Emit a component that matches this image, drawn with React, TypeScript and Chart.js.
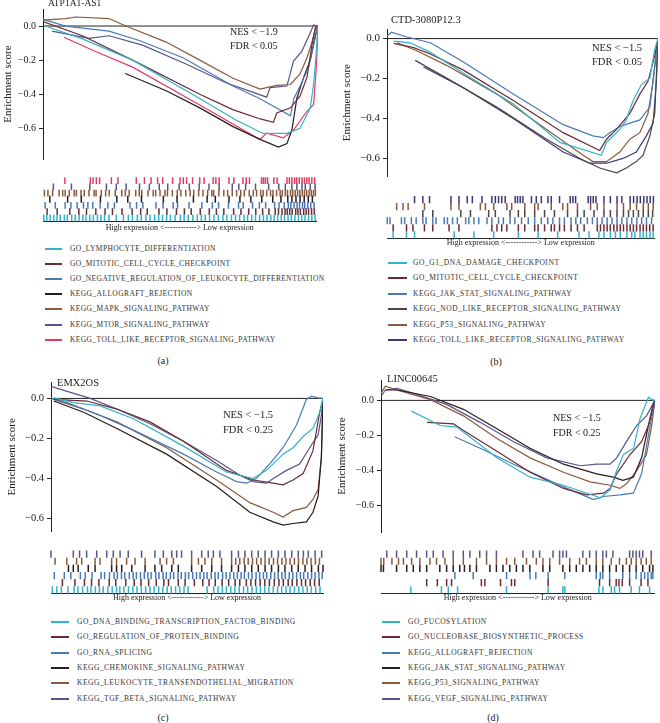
import React, { useEffect, useRef } from 'react';
import { Chart, registerables } from 'chart.js';
Chart.register(...registerables);

const SERIF = '"Liberation Serif", "DejaVu Serif", "Times New Roman", serif';
const MINUS = '\u2212';
const Y_TICKS = [0, -0.2, -0.4, -0.6];
const X_LABEL = 'High expression <------------> Low expression';

// colours
const CYAN = '#35b1c9';
const MAROON = '#6a2c34';
const STEEL = '#4a79b8';
const BLACK = '#2b1b1e';
const BROWN = '#8a5a3c';
const SLATE = '#55558c';
const NAVY = '#3b376f';
const RED = '#e23a66';
const GRAY = '#4b4448';

// ---------- Panel (a): ATP1A1-AS1 ----------
const A_NAMES = ['GO_LYMPHOCYTE_DIFFERENTIATION', 'GO_MITOTIC_CELL_CYCLE_CHECKPOINT', 'GO_NEGATIVE_REGULATION_OF_LEUKOCYTE_DIFFERENTIATION', 'KEGG_ALLOGRAFT_REJECTION', 'KEGG_MAPK_SIGNALING_PATHWAY', 'KEGG_MTOR_SIGNALING_PATHWAY', 'KEGG_TOLL_LIKE_RECEPTOR_SIGNALING_PATHWAY'];
const A_LYMPHO = [[0.9, 0], [14.3, -0.075], [32.6, -0.2], [57, -0.425], [70, -0.55], [80, -0.63], [88.7, -0.63], [93.5, -0.6], [97.2, -0.48], [98.4, -0.34], [99.4, -0.15], [100, 0]];
const A_MITOTIC = [[0, 0.026], [14.3, -0.057], [32.6, -0.2], [57, -0.4], [69, -0.49], [79, -0.545], [83.8, -0.565], [85, -0.51], [90, -0.48], [93.5, -0.41], [96, -0.3], [97.8, -0.11], [99, -0.01], [100, 0]];
const A_NEGREG = [[0, 0.039], [8.2, 0], [24, -0.03], [35, -0.085], [50.9, -0.186], [69.1, -0.352], [78.9, -0.426], [90, -0.527], [91.2, -0.426], [93.5, -0.352], [96.6, -0.241], [98.4, -0.112], [100, 0]];
const A_ALLO = [[29.9, -0.278], [44.8, -0.38], [57, -0.48], [69.1, -0.59], [78.9, -0.665], [85.6, -0.71], [88.7, -0.69], [90.5, -0.61], [92.3, -0.425], [94.8, -0.3], [97.2, -0.2], [99, -0.057], [100, 0]];
const A_MAPK = [[0, 0.035], [8.2, 0.044], [11.8, 0.053], [24, 0.044], [30.1, 0], [44.8, -0.094], [57, -0.2], [69.1, -0.306], [78.9, -0.37], [85, -0.348], [90, -0.343], [93.5, -0.28], [96, -0.186], [97.8, -0.094], [99, -0.02], [100, 0]];
const A_MTOR = [[3.3, -0.03], [16.7, -0.072], [24, -0.057], [36.2, -0.112], [52, -0.223], [66.7, -0.334], [76.5, -0.389], [81.3, -0.417], [82.6, -0.361], [88.7, -0.352], [91.1, -0.205], [94.1, -0.149], [97.2, -0.039], [98.4, 0.007], [100, 0]];
const A_TOLL = [[7.6, -0.066], [19.1, -0.149], [32.6, -0.241], [57, -0.463], [78.9, -0.665], [81.3, -0.628], [87.4, -0.656], [91.1, -0.61], [96, -0.5], [98.4, -0.46], [99.4, -0.24], [100, 0]];
const A_LYMPHO_HITS = [0.3, 1.4, 2.6, 3.9, 5.1, 6.3, 7.8, 8.9, 10.5, 11.8, 13.2, 14.6, 15.7, 17.1, 18.4, 19.9, 21.2, 22.5, 24.1, 26.8, 29.4, 31.2, 32.7, 34.5, 35.9, 37.6, 39.1, 40.8, 42.3, 43.7, 45.2, 46.6, 48.3, 50.2, 51.6, 53.1, 54.8, 56.4, 57.9, 59.3, 60.9, 62.5, 64.1, 65.8, 67.2, 68.9, 70.4, 71.9, 73.5, 74.8, 76.3, 77.7, 79.2, 80.6, 81.9, 83.3, 84.5, 85.8, 87.1, 88.3, 89.6, 90.8, 92.1, 93.4, 94.6, 95.8, 97.1, 98.3, 99.5];
const A_MITOTIC_HITS = [1.5, 5.2, 9.8, 13.1, 15.9, 19.3, 22.7, 25.4, 28.9, 32.6, 35.7, 38.1, 42.4, 45.3, 48.8, 51.7, 54.2, 57.5, 60.8, 63.4, 66.1, 69.7, 72.4, 75.2, 77.8, 80.3, 82.6, 84.9, 86.1, 87.4, 88.5, 89.3, 90.2, 91.1, 92.4, 93.2, 94.1, 95.3, 96.2, 97.1, 98.2, 99.2];
const A_NEGREG_HITS = [0.8, 4.5, 8.1, 10.2, 12.5, 14.8, 16.4, 18.2, 20.9, 23.7, 26.1, 31.8, 34.2, 36.5, 41.3, 43.9, 47.6, 49.2, 53.4, 58.1, 61.9, 64.2, 67.8, 71.5, 73.2, 76.6, 79.1, 81.4, 84.7, 86.3, 88.2, 89.7, 90.6, 91.8, 92.9, 93.8, 94.9, 95.7, 96.8, 97.9, 99.1];
const A_ALLO_HITS = [2.5, 9, 14, 21, 27, 31, 36, 44, 49, 55, 60, 63, 68, 72, 76, 80, 84, 87, 89.5, 91, 92.5, 94, 95.5, 97, 98.5];
const A_MAPK_HITS = [0.5, 1.8, 3.5, 5.9, 7.2, 8.1, 9.6, 11.4, 12.2, 13.9, 15.1, 16.8, 18.7, 19.4, 21.3, 22.9, 24.2, 26.4, 28.8, 30.1, 31.5, 33.9, 35.2, 36.1, 38.4, 40.3, 41.2, 42.8, 44.6, 45.5, 47.3, 49.1, 50.4, 52.2, 53.8, 55.1, 56.9, 58.5, 60.2, 61.7, 62.4, 64.3, 66.1, 67.5, 69.2, 70.8, 72.3, 73.6, 75.4, 76.9, 78.1, 79.6, 80.5, 81.8, 83.2, 84.1, 85.4, 86.7, 87.5, 88.6, 89.4, 90.5, 91.3, 92.2, 93.1, 93.9, 94.8, 95.6, 96.4, 97.3, 98.1, 98.9, 99.6];
const A_MTOR_HITS = [3.8, 10.4, 17.1, 23.2, 26.8, 30.4, 35.3, 38.9, 42.5, 45.6, 49.8, 53.5, 57.1, 60.7, 64.4, 69.2, 71.6, 74.1, 77.7, 82.5, 86.2, 88.6, 91, 92.8, 94.7, 95.9, 97.7, 99.5];
const A_TOLL_HITS = [8, 17.3, 18.3, 19.5, 20.7, 25, 27.4, 34.1, 37.1, 39.5, 41.9, 43.8, 47.4, 50.1, 51.3, 52.5, 54.7, 57.3, 58.9, 62.2, 63.2, 64.4, 68, 69.8, 73.1, 74.3, 75.5, 79.9, 80.6, 81.3, 82.1, 84.4, 85.6, 89.2, 90.1, 91, 92, 92.8, 93.7, 94.7, 95.6, 96.5, 97.3, 98.3, 99.3];

// ---------- Panel (b): CTD-3080P12.3 ----------
const B_NAMES = ['GO_G1_DNA_DAMAGE_CHECKPOINT', 'GO_MITOTIC_CELL_CYCLE_CHECKPOINT', 'KEGG_JAK_STAT_SIGNALING_PATHWAY', 'KEGG_NOD_LIKE_RECEPTOR_SIGNALING_PATHWAY', 'KEGG_P53_SIGNALING_PATHWAY', 'KEGG_TOLL_LIKE_RECEPTOR_SIGNALING_PATHWAY'];
const B_G1 = [[2.5, -0.013], [8.6, -0.021], [16, -0.069], [28.2, -0.174], [46.6, -0.327], [63.8, -0.52], [79.1, -0.584], [81, -0.52], [85.9, -0.455], [88.3, -0.407], [90.8, -0.31], [93.9, -0.23], [97, -0.198], [98.8, -0.053], [100, 0]];
const B_MITOTIC = [[2.5, -0.024], [9.8, -0.045], [16, -0.077], [28.2, -0.158], [46.6, -0.31], [65, -0.471], [78.5, -0.56], [81, -0.504], [84.7, -0.455], [89.6, -0.375], [93.3, -0.278], [96.3, -0.214], [98.8, -0.085], [100, 0]];
const B_JAK = [[0, 0.011], [1.6, 0.032], [7.4, 0.008], [16, -0.021], [28.2, -0.117], [46.6, -0.278], [65, -0.431], [76, -0.487], [79.8, -0.496], [82.2, -0.471], [85.9, -0.44], [89.6, -0.423], [93.3, -0.407], [97, -0.343], [98.8, -0.134], [100, 0]];
const B_NOD = [[10.4, -0.109], [22, -0.198], [40.5, -0.343], [58.9, -0.504], [71.2, -0.6], [78.5, -0.648], [84.7, -0.672], [88.3, -0.648], [92, -0.616], [94.5, -0.584], [97, -0.487], [98.8, -0.375], [100, 0]];
const B_P53 = [[3.7, -0.021], [11, -0.061], [22, -0.134], [40.5, -0.278], [58.9, -0.455], [72.4, -0.584], [76, -0.616], [81, -0.616], [85.9, -0.568], [89.6, -0.504], [93.3, -0.471], [96.3, -0.375], [98.2, -0.214], [100, 0]];
const B_TOLL = [[13.5, -0.142], [28.2, -0.246], [46.6, -0.4], [65, -0.568], [74.8, -0.624], [81, -0.624], [87.1, -0.6], [92, -0.568], [95.7, -0.487], [98.2, -0.423], [99.4, -0.214], [100, 0]];
const B_G1_HITS = [2.3, 7.3, 10.3, 25.1, 32.5, 39.9, 49.1, 56.5, 63.8, 71.8, 75.5, 79.2, 81.1, 83.5, 85.4, 87.2, 89.7, 91.5, 92.7, 94.6, 95.8, 97, 98.3, 99.5];
const B_MITOTIC_HITS = [2.3, 7.3, 9.7, 14, 17.1, 23.2, 26.9, 39.2, 41.1, 42.9, 44.8, 49.1, 51.5, 55.2, 56.5, 58.9, 61.4, 62.6, 64.5, 66.3, 68.8, 71.2, 73.7, 78.6, 79.8, 81.1, 82.3, 83.5, 84.8, 86, 87.2, 88.4, 89.7, 90.9, 92.1, 93.3, 94.6, 95.8, 97, 98.2, 99.5];
const B_JAK_HITS = [0.1, 1.1, 5.4, 6.6, 9.1, 10.9, 13.4, 14.6, 17.1, 18.3, 21.4, 22.6, 24.5, 26.3, 29.4, 30.6, 32.5, 34.3, 37.4, 39.2, 41.7, 43.5, 46, 47.8, 50.3, 52.8, 55.2, 57.7, 60.1, 62, 64.5, 66.3, 68.8, 70.6, 72.4, 74.9, 76.8, 78.6, 80.4, 82.3, 84.1, 86, 87.8, 89.7, 91.5, 93.4, 95.2, 97, 98.9];
const B_NOD_HITS = [13.4, 17.1, 27.6, 31.2, 38, 40.5, 46, 49.1, 51.5, 55.2, 58.9, 62.6, 67.5, 71.2, 73.7, 77.4, 81.1, 83.5, 86, 88.4, 90.3, 92.1, 94, 95.8, 97.7, 99.3];
const B_P53_HITS = [3.6, 6, 7.9, 14, 23.9, 26.9, 34.9, 36.8, 39.9, 44.8, 46.6, 51.5, 55.2, 56.5, 61.4, 65.7, 67.5, 71.2, 76.1, 78.6, 81.1, 86, 88.4, 90.9, 93.3, 95.8, 97.7, 99.5];
const B_TOLL_HITS = [10.3, 13.4, 15.9, 23.9, 26.9, 30, 31.9, 35.5, 39.2, 40.5, 41.7, 42.9, 44.2, 47.9, 48.8, 49.8, 50.8, 54, 55.8, 57.7, 60.2, 61.4, 64.5, 68.5, 69.5, 70.5, 75.2, 76.1, 77.1, 78.1, 81.1, 83.5, 86, 87.8, 90.9, 92.2, 93.5, 94.7, 96, 97.2, 98.4, 99.6];

// ---------- Panel (c): EMX2OS ----------
const C_NAMES = ['GO_DNA_BINDING_TRANSCRIPTION_FACTOR_BINDING', 'GO_REGULATION_OF_PROTEIN_BINDING', 'GO_RNA_SPLICING', 'KEGG_CHEMOKINE_SIGNALING_PATHWAY', 'KEGG_LEUKOCYTE_TRANSENDOTHELIAL_MIGRATION', 'KEGG_TGF_BETA_SIGNALING_PATHWAY'];
const C_DNA = [[1, 0.003], [8.3, -0.021], [18.1, -0.037], [30.3, -0.101], [48.7, -0.238], [64.5, -0.367], [74.3, -0.4], [79.2, -0.359], [85.3, -0.278], [89, -0.246], [92.7, -0.19], [96.3, -0.15], [98.8, -0.069], [100, 0]];
const C_REG = [[1, -0.005], [13.2, -0.013], [24.2, -0.053], [36.4, -0.117], [48.7, -0.214], [64.5, -0.359], [74.3, -0.407], [81.7, -0.423], [85.3, -0.431], [89, -0.407], [92.7, -0.375], [96.3, -0.262], [98.8, -0.069], [100, 0]];
const C_RNA = [[0, 0], [5.9, -0.021], [18.1, -0.085], [30.3, -0.158], [48.7, -0.278], [60.9, -0.367], [68.2, -0.415], [71.9, -0.423], [75.5, -0.4], [80.4, -0.327], [85.3, -0.246], [90.2, -0.134], [93.9, -0.005], [95.7, 0.011], [98.2, 0.003], [100, 0]];
const C_CHEMO = [[1, -0.013], [12, -0.069], [24.2, -0.15], [42.5, -0.278], [60.9, -0.439], [73.1, -0.568], [81.7, -0.616], [85.3, -0.632], [89, -0.624], [93.9, -0.616], [96.3, -0.568], [98.2, -0.487], [99.4, -0.294], [100, 0]];
const C_LEUKO = [[1, -0.005], [12, -0.053], [24.2, -0.117], [42.5, -0.246], [60.9, -0.407], [73.1, -0.52], [81.7, -0.568], [85.3, -0.592], [89, -0.56], [93.9, -0.544], [96.3, -0.504], [98.2, -0.455], [99.4, -0.294], [100, 0]];
const C_TGF = [[0, 0.06], [5.9, 0.035], [14.4, 0], [24.2, -0.053], [36.4, -0.126], [48.7, -0.214], [60.9, -0.31], [69.4, -0.383], [74.3, -0.415], [79.2, -0.423], [81.7, -0.4], [86.6, -0.359], [91.4, -0.327], [95.1, -0.246], [98.2, -0.182], [99.4, -0.085], [100, 0]];
const C_DNA_HITS = [0.5, 2.1, 3.8, 6.2, 8.5, 9.9, 11.6, 13.4, 14.7, 16.3, 17.8, 19.2, 20.9, 22.5, 24.1, 25.3, 26.8, 28.5, 30.1, 31.6, 33.2, 34.8, 36.4, 37.9, 39.6, 41.1, 42.7, 44.2, 45.8, 47.3, 48.9, 50.4, 57.4, 59.8, 61.4, 63, 64.5, 66.1, 67.6, 69.2, 70.8, 72.3, 73.9, 75.5, 77, 78.6, 80.1, 81.7, 83.3, 84.8, 86.4, 87.9, 89.5, 91.1, 92.6, 94.2, 95.7, 97.3, 98.9];
const C_REG_HITS = [4.2, 8.8, 12.3, 14.9, 17.6, 21.4, 23.8, 27.5, 30.6, 33.1, 35.9, 38.7, 41.5, 43.2, 46.8, 49.3, 52.7, 55.8, 58.1, 60.4, 62.9, 65.3, 67.7, 69.4, 71.8, 73.5, 75.2, 76.9, 78.6, 80.3, 82.1, 83.8, 85.4, 87.2, 88.7, 90.4, 92.1, 93.6, 95.3, 96.9, 98.6];
const C_RNA_HITS = [1.2, 4.9, 7.3, 10.8, 12.6, 15.1, 18.4, 19.7, 21.5, 23.2, 24.4, 25.9, 27.1, 28.8, 30.2, 31.4, 32.9, 34.3, 35.6, 36.8, 38.5, 39.7, 41.2, 42.4, 43.9, 45.1, 46.7, 47.9, 49.4, 50.6, 52.1, 53.5, 54.8, 56.2, 57.4, 58.9, 60.3, 61.5, 63.1, 64.4, 65.8, 67.2, 68.5, 69.9, 71.1, 72.6, 73.9, 75.4, 76.7, 78.1, 79.3, 80.8, 82.2, 83.5, 84.9, 86.1, 87.6, 88.9, 90.3, 91.7, 92.9, 94.4, 95.8, 97.1, 98.5, 99.7];
const C_CHEMO_HITS = [6.4, 8.2, 10, 13.7, 16.2, 22.3, 24.1, 26, 29.7, 34.6, 38.2, 40.7, 44.4, 46.8, 51.7, 55.4, 59.1, 62.7, 66.4, 68.9, 71.3, 73.8, 76.2, 78.7, 81.1, 83.6, 86, 88.5, 90.9, 93.4, 95.8, 98.3, 100];
const C_LEUKO_HITS = [1.5, 5.8, 9.4, 11.3, 16.2, 18, 22.3, 24.1, 27.8, 30.9, 34.6, 40.1, 42.5, 45, 51.7, 54.2, 56.6, 59.1, 62.7, 66.4, 67.9, 69.4, 71, 72.5, 74.1, 75.6, 77.2, 78.7, 80.2, 81.8, 83.3, 84.9, 86.4, 87.9, 89.5, 91, 92.6, 94.1, 95.6, 97.2, 98.7];
const C_TGF_HITS = [0, 8.2, 10.5, 13.1, 16.8, 20.5, 22.9, 25.4, 28.4, 33.3, 38.2, 41.3, 44.4, 46.2, 48, 51.7, 55.4, 57.8, 59.7, 62.1, 66.4, 68.9, 71.3, 73.8, 76.2, 78.7, 81.1, 83.6, 86, 88.5, 90.9, 92.8, 94.6, 97.1, 99.5];

// ---------- Panel (d): LINC00645 ----------
const D_NAMES = ['GO_FUCOSYLATION', 'GO_NUCLEOBASE_BIOSYNTHETIC_PROCESS', 'KEGG_ALLOGRAFT_REJECTION', 'KEGG_JAK_STAT_SIGNALING_PATHWAY', 'KEGG_P53_SIGNALING_PATHWAY', 'KEGG_VEGF_SIGNALING_PATHWAY'];
const D_FUCO = [[11.1, -0.061], [21.6, -0.143], [27.7, -0.152], [42.3, -0.327], [54.4, -0.437], [66.6, -0.483], [78.7, -0.547], [80, -0.556], [83.6, -0.51], [86, -0.4], [88.5, -0.308], [92.2, -0.272], [94.5, -0.106], [97.6, 0.018], [98.8, 0.004], [100, 0]];
const D_NUCLEO = [[16.8, -0.125], [26.5, -0.134], [30.1, -0.171], [42.3, -0.29], [54.4, -0.409], [66.6, -0.501], [75.1, -0.538], [81.2, -0.528], [83.6, -0.501], [86, -0.418], [90.9, -0.308], [95.1, -0.235], [97.6, -0.143], [99.4, -0.015], [100, 0]];
const D_ALLO = [[26.9, -0.207], [36.2, -0.272], [48.4, -0.363], [66.6, -0.492], [77.5, -0.565], [81.2, -0.547], [87.2, -0.538], [92.1, -0.528], [95.1, -0.418], [97.6, -0.198], [99.4, -0.051], [100, 0]];
const D_JAK = [[1.6, 0.059], [5.8, 0.059], [18, 0.022], [30.1, -0.051], [42.3, -0.161], [54.4, -0.272], [66.6, -0.363], [78.7, -0.418], [84.8, -0.437], [88.3, -0.455], [92.1, -0.437], [95.1, -0.327], [97.6, -0.143], [100, 0]];
const D_P53 = [[0, 0.04], [1.6, 0.081], [5.8, 0.059], [18, 0.004], [30.1, -0.088], [42.3, -0.217], [54.4, -0.327], [66.6, -0.409], [76.3, -0.464], [83.6, -0.483], [87.2, -0.501], [89.7, -0.473], [93.3, -0.4], [96.9, -0.308], [98.8, -0.143], [100, 0]];
const D_VEGF = [[0, 0.022], [1.6, 0.059], [5.8, 0.068], [11.9, 0.04], [24.1, -0.024], [36.2, -0.125], [48.4, -0.235], [60.5, -0.327], [72.7, -0.372], [78.7, -0.363], [83.6, -0.363], [86, -0.327], [89.6, -0.235], [93.3, -0.143], [96.9, -0.088], [100, 0]];
const D_FUCO_HITS = [10.9, 22.1, 24.6, 28, 45.9, 61.1, 66.5, 67.2, 79.7, 81.1, 84.2, 85.4, 87.2, 91.5, 94.5, 98.2];
const D_NUCLEO_HITS = [16.7, 20.6, 24, 25.8, 36.7, 38, 43.7, 47.7, 48.9, 61.1, 79.9, 83.6, 86, 87, 88.2, 90.9, 95.1, 97.6];
const D_ALLO_HITS = [27, 33.7, 45.9, 54.5, 56.6, 61.1, 67.2, 78.7, 80.2, 81.1, 83.6, 88.4, 90.9, 93.3, 95.1, 96.4, 97.6, 98.8, 99.4];
const D_JAK_HITS = [0, 0.9, 5.7, 9.4, 11.8, 14.2, 16.7, 21.5, 24, 26.4, 28.8, 30.5, 32.5, 34.9, 39.8, 42.2, 44.6, 47.1, 49.5, 51.9, 54.4, 59.2, 61.7, 66.5, 69, 71.4, 73.8, 76.3, 78.7, 81.1, 83.6, 86, 88.4, 90.9, 93.3, 95.7, 98.2, 99.4];
const D_P53_HITS = [0, 1, 4, 6.4, 8.2, 11.2, 14.2, 17.9, 20.3, 23.4, 26.4, 30.1, 34.9, 38.6, 42.2, 45.9, 48.9, 53.2, 56.8, 59.2, 61.7, 65.3, 69, 72.6, 75.1, 78.7, 81.1, 84.2, 87.2, 89.7, 91.5, 93.3, 95.1, 97, 98.8];
const D_VEGF_HITS = [2.1, 5.7, 9.4, 13, 16.7, 19.1, 22.7, 26.4, 30.1, 32.5, 36.1, 38.6, 42.2, 51.9, 55.6, 58, 62.9, 65.3, 66.5, 67.8, 73.8, 76.3, 78.7, 81.1, 82.4, 84.8, 90.9, 92.1, 93.3, 94.5, 95.7, 98.8];

type Series = { name: string; color: string; curve: number[][]; hits: number[] };
type Panel = {
  left: number;
  title: string; titleX: number; titleY: number; titleSize: number;
  nes: string; fdr: string; nesX: number; nesY: number; nesGap: number; nesSize: number;
  line: { top: number; width: number; height: number; padL: number; padT: number; padR: number; padB: number; axisW: number; ymin: number; ymax: number; tickSize: number };
  bar: { top: number; height: number; padL: number; padT: number; padR: number; padB: number; radius: number; lw: number; textPad: number };
  legend: { lineX: number; lineW: number; textX: number; y0: number; dy: number; size: number; ls: number };
  caption: string; capX: number; capY: number;
  series: Series[];
};

const mk = (names: string[], colors: string[], curves: number[][][], hits: number[][]): Series[] =>
  names.map((name, i) => ({ name, color: colors[i], curve: curves[i], hits: hits[i] }));

const PANELS: Panel[] = [
  {
    left: 0, title: 'ATP1A1-AS1', titleX: 48, titleY: 4, titleSize: 9.5,
    nes: `NES < ${MINUS}1.9`, fdr: 'FDR < 0.05', nesX: 230, nesY: 32, nesGap: 14, nesSize: 10,
    line: { top: 0, width: 322, height: 168, padL: 0, padT: 5, padR: 4, padB: 5, axisW: 43, ymin: -0.78, ymax: 0.1, tickSize: 10 },
    bar: { top: 172, height: 62, padL: 43, padT: 5, padR: 4, padB: 1.4, radius: 3.4, lw: 1.5, textPad: 2 },
    legend: { lineX: 45, lineW: 17, textX: 70, y0: 249, dy: 15.1, size: 7.5, ls: 0.4 },
    caption: '(a)', capX: 163, capY: 361,
    series: mk(A_NAMES, [CYAN, MAROON, STEEL, BLACK, BROWN, SLATE, RED],
      [A_LYMPHO, A_MITOTIC, A_NEGREG, A_ALLO, A_MAPK, A_MTOR, A_TOLL],
      [A_LYMPHO_HITS, A_MITOTIC_HITS, A_NEGREG_HITS, A_ALLO_HITS, A_MAPK_HITS, A_MTOR_HITS, A_TOLL_HITS]),
  },
  {
    left: 330, title: 'CTD-3080P12.3', titleX: 391, titleY: 20, titleSize: 10.5,
    nes: `NES < ${MINUS}1.5`, fdr: 'FDR < 0.05', nesX: 592, nesY: 48, nesGap: 14, nesSize: 10.5,
    line: { top: 0, width: 330, height: 186, padL: 9, padT: 29, padR: 2, padB: 4, axisW: 48, ymin: -0.69, ymax: 0.048, tickSize: 11 },
    bar: { top: 190, height: 59, padL: 57, padT: 6, padR: 2, padB: 1, radius: 3.6, lw: 1.5, textPad: 0 },
    legend: { lineX: 388, lineW: 19, textX: 413, y0: 263, dy: 15.4, size: 7.5, ls: 0.55 },
    caption: '(b)', capX: 496, capY: 362,
    series: mk(B_NAMES, [CYAN, MAROON, STEEL, GRAY, BROWN, NAVY],
      [B_G1, B_MITOTIC, B_JAK, B_NOD, B_P53, B_TOLL],
      [B_G1_HITS, B_MITOTIC_HITS, B_JAK_HITS, B_NOD_HITS, B_P53_HITS, B_TOLL_HITS]),
  },
  {
    left: 0, title: 'EMX2OS', titleX: 57, titleY: 383, titleSize: 10.5,
    nes: `NES < ${MINUS}1.5`, fdr: 'FDR < 0.25', nesX: 223, nesY: 415, nesGap: 15, nesSize: 10.5,
    line: { top: 370, width: 330, height: 171, padL: 4, padT: 12, padR: 7, padB: 4, axisW: 47, ymin: -0.665, ymax: 0.082, tickSize: 10.5 },
    bar: { top: 545, height: 59, padL: 51, padT: 5, padR: 7, padB: 1, radius: 3.6, lw: 1.5, textPad: 0 },
    legend: { lineX: 51, lineW: 18, textX: 77, y0: 622, dy: 15.3, size: 7.5, ls: 0.5 },
    caption: '(c)', capX: 163, capY: 718,
    series: mk(C_NAMES, [CYAN, MAROON, STEEL, BLACK, BROWN, SLATE],
      [C_DNA, C_REG, C_RNA, C_CHEMO, C_LEUKO, C_TGF],
      [C_DNA_HITS, C_REG_HITS, C_RNA_HITS, C_CHEMO_HITS, C_LEUKO_HITS, C_TGF_HITS]),
  },
  {
    left: 330, title: 'LINC00645', titleX: 387, titleY: 379, titleSize: 10.5,
    nes: `NES < ${MINUS}1.5`, fdr: 'FDR < 0.25', nesX: 553, nesY: 418, nesGap: 14.5, nesSize: 10,
    line: { top: 370, width: 330, height: 171, padL: 4, padT: 10, padR: 5, padB: 4, axisW: 47, ymin: -0.749, ymax: 0.116, tickSize: 10 },
    bar: { top: 545, height: 59, padL: 51, padT: 5, padR: 5, padB: 1, radius: 3.6, lw: 1.5, textPad: 0 },
    legend: { lineX: 382, lineW: 18, textX: 408, y0: 622, dy: 15.3, size: 7.5, ls: 0.5 },
    caption: '(d)', capX: 493, capY: 718,
    series: mk(D_NAMES, [CYAN, MAROON, STEEL, BLACK, BROWN, SLATE],
      [D_FUCO, D_NUCLEO, D_ALLO, D_JAK, D_P53, D_VEGF],
      [D_FUCO_HITS, D_NUCLEO_HITS, D_ALLO_HITS, D_JAK_HITS, D_P53_HITS, D_VEGF_HITS]),
  },
];

const fmt = (v: number) => (Math.abs(v) < 1e-9 ? '0.0' : (v < 0 ? MINUS : '') + Math.abs(v).toFixed(1));

function LineChart({ p }: { p: Panel }) {
  const ref = useRef<HTMLCanvasElement>(null);
  useEffect(() => {
    const L = p.line;
    const chart = new Chart(ref.current!, {
      type: 'line',
      data: {
        datasets: [
          ...p.series.map((s) => ({
            data: s.curve.map(([x, y]) => ({ x, y })),
            borderColor: s.color, borderWidth: 1.2, pointRadius: 0, fill: false, tension: 0,
          })),
          { data: [{ x: 0, y: 0 }, { x: 100, y: 0 }], borderColor: '#222', borderWidth: 1, pointRadius: 0, fill: false },
        ],
      } as any,
      options: {
        animation: false, responsive: false, events: [],
        layout: { padding: { left: L.padL, top: L.padT, right: L.padR, bottom: L.padB } },
        plugins: { legend: { display: false }, tooltip: { enabled: false } },
        scales: {
          x: { type: 'linear', min: 0, max: 100, display: false },
          y: {
            type: 'linear', min: L.ymin, max: L.ymax,
            afterFit: (s: any) => { s.width = L.axisW; },
            afterBuildTicks: (s: any) => { s.ticks = Y_TICKS.map((v) => ({ value: v })); },
            ticks: { callback: (v: any) => fmt(Number(v)), font: { family: SERIF, size: L.tickSize }, color: '#222', padding: 3 },
            grid: { drawOnChartArea: false, drawTicks: true, tickLength: 4, color: '#222' },
            border: { display: true, color: '#222', width: 1 },
            title: { display: true, text: 'Enrichment score', font: { family: SERIF, size: 11 }, color: '#222', padding: { top: 1.4, bottom: 0 } },
          },
        },
      } as any,
    });
    return () => chart.destroy();
  }, []);
  return <canvas ref={ref} width={p.line.width} height={p.line.height} style={{ position: 'absolute', left: p.left, top: p.line.top }} />;
}

function BarcodeChart({ p }: { p: Panel }) {
  const ref = useRef<HTMLCanvasElement>(null);
  const B = p.bar;
  useEffect(() => {
    const n = p.series.length;
    const chart = new Chart(ref.current!, {
      type: 'scatter',
      data: {
        datasets: p.series.map((s, i) => ({
          data: s.hits.map((x) => ({ x, y: i })),
          pointStyle: 'line', pointRotation: 90, pointRadius: B.radius,
          pointBorderWidth: B.lw, pointBorderColor: s.color, borderColor: s.color, backgroundColor: s.color,
          clip: 4,
        })),
      } as any,
      options: {
        animation: false, responsive: false, events: [],
        layout: { padding: { left: B.padL, top: B.padT, right: B.padR, bottom: B.padB } },
        plugins: { legend: { display: false }, tooltip: { enabled: false } },
        scales: {
          x: {
            type: 'linear', min: 0, max: 100,
            ticks: { display: false },
            grid: { display: true, drawOnChartArea: false, drawTicks: false },
            border: { display: true, color: '#222', width: 1 },
            title: { display: true, text: X_LABEL, font: { family: SERIF, size: 8 }, color: '#222', padding: { top: B.textPad, bottom: 0 } },
          },
          y: { type: 'linear', min: -0.5, max: n - 0.5, display: false },
        },
      } as any,
    });
    return () => chart.destroy();
  }, []);
  return <canvas ref={ref} width={p.line.width} height={B.height} style={{ position: 'absolute', left: p.left, top: B.top }} />;
}

const txt = (x: number, y: number, size: number, extra: React.CSSProperties = {}): React.CSSProperties => ({
  position: 'absolute', left: x, top: y, transform: 'translateY(-50%)', fontFamily: SERIF, fontSize: size,
  lineHeight: 1, whiteSpace: 'nowrap', color: '#222', ...extra,
});

function PanelView({ p }: { p: Panel }) {
  const lg = p.legend;
  return (
    <>
      <LineChart p={p} />
      <BarcodeChart p={p} />
      <div style={txt(p.titleX, p.titleY, p.titleSize)}>{p.title}</div>
      <div style={txt(p.nesX, p.nesY, p.nesSize)}>{p.nes}</div>
      <div style={txt(p.nesX, p.nesY + p.nesGap, p.nesSize)}>{p.fdr}</div>
      {p.series.map((s, i) => (
        <React.Fragment key={s.name}>
          <div style={{ position: 'absolute', left: lg.lineX, top: Math.round(lg.y0 + i * lg.dy) - 1, width: lg.lineW, height: 1.5, background: s.color }} />
          <div style={txt(lg.textX, lg.y0 + i * lg.dy, lg.size, { letterSpacing: lg.ls, color: '#333' })}>{s.name}</div>
        </React.Fragment>
      ))}
      <div style={{ ...txt(p.capX, p.capY, 10), transform: 'translate(-50%, -50%)' }}>{p.caption}</div>
    </>
  );
}

export default function App() {
  return (
    <div style={{ position: 'fixed', left: 0, top: 0, width: 660, height: 723, background: '#fff', overflow: 'hidden' }}>
      {PANELS.map((p, i) => <PanelView key={i} p={p} />)}
    </div>
  );
}
